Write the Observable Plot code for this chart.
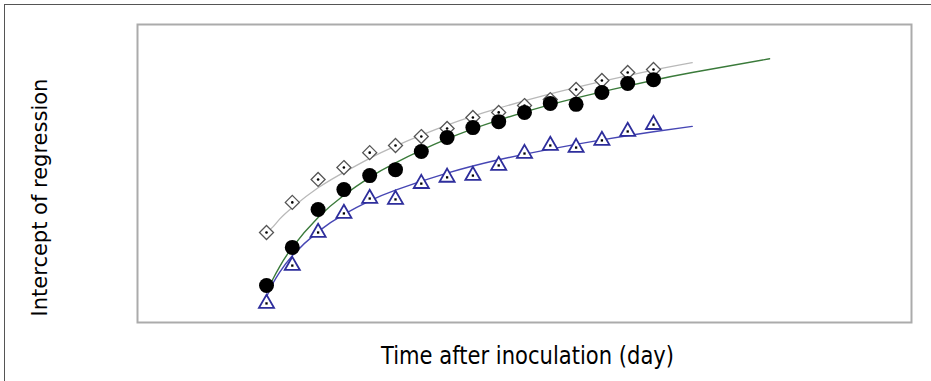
<!DOCTYPE html>
<html>
<head>
<meta charset="utf-8">
<script src="https://cdn.jsdelivr.net/npm/d3@7"></script>
<script src="https://cdn.jsdelivr.net/npm/@observablehq/plot@0.6"></script>
<style>
  html, body { margin: 0; padding: 0; background: #fff; overflow: hidden; }
  #wrap { position: relative; width: 931px; height: 381px; }
  #outer { position: absolute; left: 4px; top: 4px; width: 960px; height: 420px;
           border-left: 1px solid #555; border-top: 1px solid #555; box-sizing: border-box; }
  #chart { position: absolute; left: 0; top: 0; }
</style>
</head>
<body>
<div id="wrap"><div id="outer"></div><div id="chart"></div></div>
<script>
// Observed points (day index after inoculation)
const days = [1, 2, 3, 4, 5, 6, 7, 8, 9, 10, 11, 12, 13, 14, 15, 16];
const diamondVals  = [30.2, 40.3, 48.0, 52.0, 57.0, 59.4, 62.4, 65.1, 68.8, 70.5, 72.8, 74.8, 78.2, 81.2, 83.9, 84.9];
const circleVals   = [12.4, 25.2, 37.9, 44.6, 49.3, 51.3, 57.4, 62.1, 65.4, 67.4, 70.5, 73.5, 73.2, 77.2, 80.2, 81.5];
const triangleVals = [6.4, 19.1, 30.2, 36.6, 41.6, 41.3, 46.6, 48.7, 49.3, 52.7, 56.7, 59.4, 58.7, 61.1, 64.1, 66.4];

// Fitted curves
const fitDaysShort = [1, 1.25, 1.5, 2, 3, 4, 5, 6, 8, 10, 12, 14, 16, 17.5];
const fitDaysLong  = [1, 1.25, 1.5, 2, 3, 4, 5, 6, 8, 10, 12, 14, 16, 17.5, 20.5];
const grayFit  = [30.2, 32.1, 34.6, 38.6, 45.2, 50.4, 55.1, 59.2, 66.2, 71.9, 76.7, 80.9, 84.7, 87.2];
const blueFit  = [8.6, 13.1, 16.7, 22.4, 30.5, 36.3, 40.8, 44.4, 50.1, 54.6, 58.2, 61.3, 64.0, 65.8];
const greenFit = [10.1, 14.6, 18.6, 25.2, 35.2, 42.7, 48.7, 53.6, 61.6, 67.9, 73.1, 77.4, 81.3, 83.9, 88.5];

const xLabel = "Time after inoculation (day)";
const yLabel = "Intercept of regression";

const pts = (xs, ys) => xs.map((x, i) => ({x, y: ys[i]}));
const diamonds = pts(days, diamondVals);
const circles = pts(days, circleVals);
const triangles = pts(days, triangleVals);
const grayLine = pts(fitDaysShort, grayFit);
const blueLine = pts(fitDaysShort, blueFit);
const greenLine = pts(fitDaysLong, greenFit);

const chart = Plot.plot({
  width: 931,
  height: 381,
  marginLeft: 137,
  marginRight: 20,
  marginTop: 24,
  marginBottom: 59,
  style: {fontFamily: "DejaVu Sans", background: "transparent", overflow: "visible"},
  x: {domain: [-4, 26], axis: null},
  y: {domain: [0, 100], axis: null},
  marks: [
    Plot.frame({stroke: "#ababab", strokeWidth: 2}),
    Plot.line(grayLine, {x: "x", y: "y", curve: "natural", stroke: "#b9b9b9", strokeWidth: 1.3}),
    Plot.line(greenLine, {x: "x", y: "y", curve: "natural", stroke: "#3a7a3a", strokeWidth: 1.4}),
    Plot.line(blueLine, {x: "x", y: "y", curve: "natural", stroke: "#4646b4", strokeWidth: 1.4}),
    Plot.dot(diamonds, {x: "x", y: "y", symbol: "diamond2", r: 6.3, fill: "#fff", stroke: "#555", strokeWidth: 1.3}),
    Plot.dot(diamonds, {x: "x", y: "y", r: 1.3, fill: "#000"}),
    Plot.dot(circles, {x: "x", y: "y", r: 7.5, fill: "#000", stroke: "none"}),
    Plot.dot(triangles, {x: "x", y: "y", symbol: "triangle2", r: 7.2, fill: "#fff", stroke: "#2e2e9c", strokeWidth: 1.8}),
    Plot.dot(triangles, {x: "x", y: "y", symbol: "square", r: 1.3, fill: "#000"}),
    Plot.text([xLabel], {frameAnchor: "bottom", text: d => d, dx: 3, dy: 41, lineAnchor: "bottom",
      textAnchor: "middle", fontSize: 24, fill: "#000", fontFamily: "DejaVu Sans"}),
    Plot.text([yLabel], {frameAnchor: "left", text: d => d, dx: -91, dy: 24, rotate: -90, lineAnchor: "bottom",
      textAnchor: "middle", fontSize: 21, fill: "#000", fontFamily: "DejaVu Sans"})
  ]
});

d3.select(chart).selectAll("text").each(function () {
  if (this.textContent === xLabel) {
    d3.select(this).attr("textLength", 293).attr("lengthAdjust", "spacingAndGlyphs");
  }
});

document.getElementById("chart").appendChild(chart);
</script>
</body>
</html>
